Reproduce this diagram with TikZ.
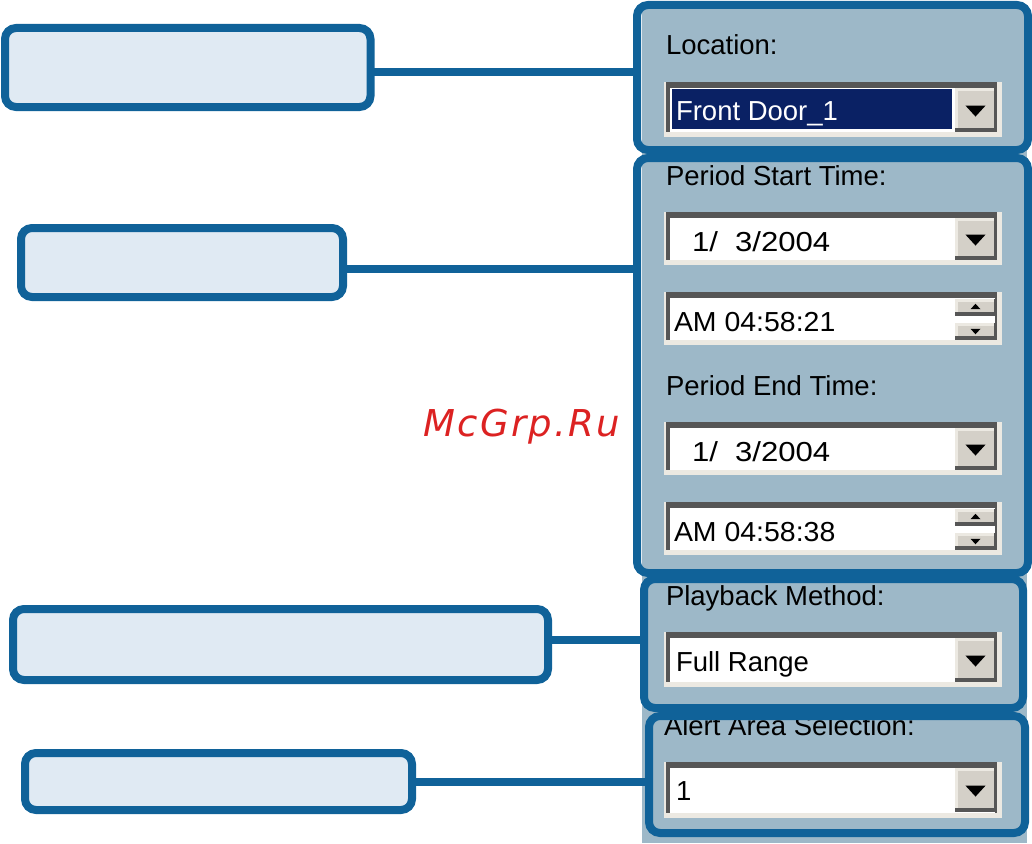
\documentclass[tikz,border=0pt]{standalone}
\usepackage{fontspec}
\setmainfont{Liberation Sans}
\newfontfamily\markfont[LetterSpace=6.4]{DejaVu Sans}
\newfontfamily\datefont[FakeStretch=1.13]{Liberation Sans}
\newfontfamily\timefont[FakeStretch=1.035]{Liberation Sans}
\usetikzlibrary{positioning,shapes.geometric}
\definecolor{frameblue}{HTML}{106299}
\definecolor{panelgrey}{HTML}{9DB8C8}
\definecolor{notefill}{HTML}{E0EAF3}
\definecolor{selnavy}{HTML}{0A2164}
\definecolor{btnface}{HTML}{D4D0C8}
\definecolor{bevellight}{HTML}{ECE9E2}
\definecolor{beveldark}{HTML}{565656}
\definecolor{markred}{HTML}{DC2222}
\tikzset{
	x=1pt,
	y=-1pt,
	note/.style={
		rectangle,
		draw=frameblue,
		fill=notefill,
		line width=8pt,
		rounded corners=11pt,
		outer sep=0pt,
		inner sep=0pt
	},
	frame/.style={
		rectangle,
		draw=frameblue,
		line width=8pt,
		rounded corners=11pt,
		outer sep=0pt,
		inner sep=0pt
	},
	link/.style={draw=frameblue, line width=8pt},
	well/.style={
		rectangle,
		fill=bevellight,
		minimum width=338pt,
		outer sep=0pt,
		inner sep=0pt,
		path picture={
			\fill[beveldark] ([xshift=2pt]path picture bounding box.north west) rectangle
				([xshift=-5pt,yshift=5pt]path picture bounding box.south east);
			\fill[white] ([xshift=5.5pt,yshift=-6pt]path picture bounding box.north west) rectangle
				([xshift=-7pt,yshift=5pt]path picture bounding box.south east);
		}
	},
	btn/.style={
		rectangle,
		fill=beveldark,
		outer sep=0pt,
		inner sep=0pt,
		path picture={
			\fill[bevellight] (path picture bounding box.north west) rectangle
				([xshift=-3pt,yshift=4pt]path picture bounding box.south east);
			\fill[btnface] ([xshift=3pt,yshift=-3pt]path picture bounding box.north west) rectangle
				([xshift=-3pt,yshift=4pt]path picture bounding box.south east);
		}
	},
	ddbtn/.style={btn, minimum width=42pt},
	spinbtn/.style={btn, minimum width=42pt, minimum height=17pt},
	tip/.style={
		isosceles triangle,
		isosceles triangle apex angle=85,
		fill=black,
		inner sep=0pt,
		outer sep=0pt,
		minimum height=11pt,
		minimum width=20pt
	},
	smalltip/.style={tip, minimum height=5pt, minimum width=10pt},
	ui/.style={anchor=base west, inner sep=0pt, outer sep=0pt, font=\fontsize{27.5}{30}\selectfont},
	datetext/.style={ui, font=\datefont\fontsize{27.5}{30}\selectfont},
	timetext/.style={ui, font=\timefont\fontsize{27.5}{30}\selectfont}
}
\begin{document}
\begin{tikzpicture}
  \useasboundingbox (0,0) rectangle (1032,843);

  \fill[panelgrey] (642,5) rectangle (1027,843);

  % Location
  \node[ui] (loclabel) at (666,55) {Location:};
  \node[well,minimum height=55pt] (locwell) at (833,109.5) {};
  \node[rectangle,fill=selnavy,minimum width=280pt,minimum height=40pt,inner sep=0pt] (locsel) at (812,109) {};
  \node[ddbtn,minimum height=44pt] (locbtn) at (975.5,110) {};
  \node[tip,shape border rotate=270] (loctip) at (locbtn.center) {};
  \node[ui,white] (loctext) at (676,120) {Front Door\_1};

  % Period start
  \node[ui] (startlabel) at (666,185) {Period Start Time:};
  \node[well,minimum height=53pt] (startwell) at (833,238.5) {};
  \node[ddbtn,minimum height=42pt] (startbtn) at (975.5,239) {};
  \node[tip,shape border rotate=270] (starttip) at (startbtn.center) {};
  \node[datetext] (starttext) at (692,251) {1/\ \ 3/2004};
  \node[well,minimum height=53pt] (startspin) at (833,318.5) {};
  \node[spinbtn] (startup) at (975.5,307) {};
  \node[spinbtn] (startdown) at (975.5,331) {};
  \node[smalltip,shape border rotate=90] (startuptip) at (startup.center) {};
  \node[smalltip,shape border rotate=270] (startdowntip) at (startdown.center) {};
  \node[timetext] (starttime) at (674,331) {AM 04:58:21};

  % Period end
  \node[ui] (endlabel) at (666,395) {Period End Time:};
  \node[well,minimum height=53pt] (endwell) at (833,448.5) {};
  \node[ddbtn,minimum height=42pt] (endbtn) at (975.5,449) {};
  \node[tip,shape border rotate=270] (endtip) at (endbtn.center) {};
  \node[datetext] (endtext) at (692,461) {1/\ \ 3/2004};
  \node[well,minimum height=53pt] (endspin) at (833,528.5) {};
  \node[spinbtn] (endup) at (975.5,517) {};
  \node[spinbtn] (enddown) at (975.5,541) {};
  \node[smalltip,shape border rotate=90] (enduptip) at (endup.center) {};
  \node[smalltip,shape border rotate=270] (enddowntip) at (enddown.center) {};
  \node[timetext] (endtime) at (674,541) {AM 04:58:38};

  % Playback
  \node[ui] (playlabel) at (666,605) {Playback Method:};
  \node[well,minimum height=55pt] (playwell) at (833,659.5) {};
  \node[ddbtn,minimum height=44pt] (playbtn) at (975.5,660) {};
  \node[tip,shape border rotate=270] (playtip) at (playbtn.center) {};
  \node[ui] (playtext) at (676,671) {Full Range};

  % Alert area
  \node[ui] (alertlabel) at (664,735) {Alert Area Selection:};
  \node[well,minimum height=56pt] (alertwell) at (833,790) {};
  \node[ddbtn,minimum height=44pt] (alertbtn) at (975.5,790) {};
  \node[tip,shape border rotate=270] (alerttip) at (alertbtn.center) {};
  \node[ui] (alerttext) at (676,800) {1};

  \node[anchor=base west,inner sep=0pt,text=markred,font=\markfont\itshape\fontsize{37}{40}\selectfont] (mark) at (423,436) {McGrp.Ru};

  \node[note,minimum width=365.5pt,minimum height=79pt] (notea) at (187.75,67.5) {};
  \node[note,minimum width=322pt,minimum height=69pt] (noteb) at (182,262.5) {};
  \node[note,minimum width=535pt,minimum height=71pt] (notec) at (280.5,644.5) {};
  \node[note,minimum width=387pt,minimum height=57pt] (noted) at (218.5,781.5) {};

  \node[frame,minimum width=391pt,minimum height=145pt] (framea) at (832.5,77.5) {};
  \node[frame,minimum width=391pt,minimum height=415pt] (frameb) at (832.5,365.5) {};
  \node[frame,minimum width=379pt,minimum height=129pt] (framec) at (833.5,643.5) {};
  \node[frame,minimum width=376pt,minimum height=117pt] (framed) at (837,774.5) {};

  \coordinate (tapa) at (500,72);
  \coordinate (tapb) at (500,269);
  \coordinate (tapc) at (600,640);
  \coordinate (tapd) at (500,782);

  \draw[link] (tapa -| notea.east) -- (tapa -| framea.west);
  \draw[link] (tapb -| noteb.east) -- (tapb -| frameb.west);
  \draw[link] (tapc -| notec.east) -- (tapc -| framec.west);
  \draw[link] (tapd -| noted.east) -- (tapd -| framed.west);
\end{tikzpicture}
\end{document}
